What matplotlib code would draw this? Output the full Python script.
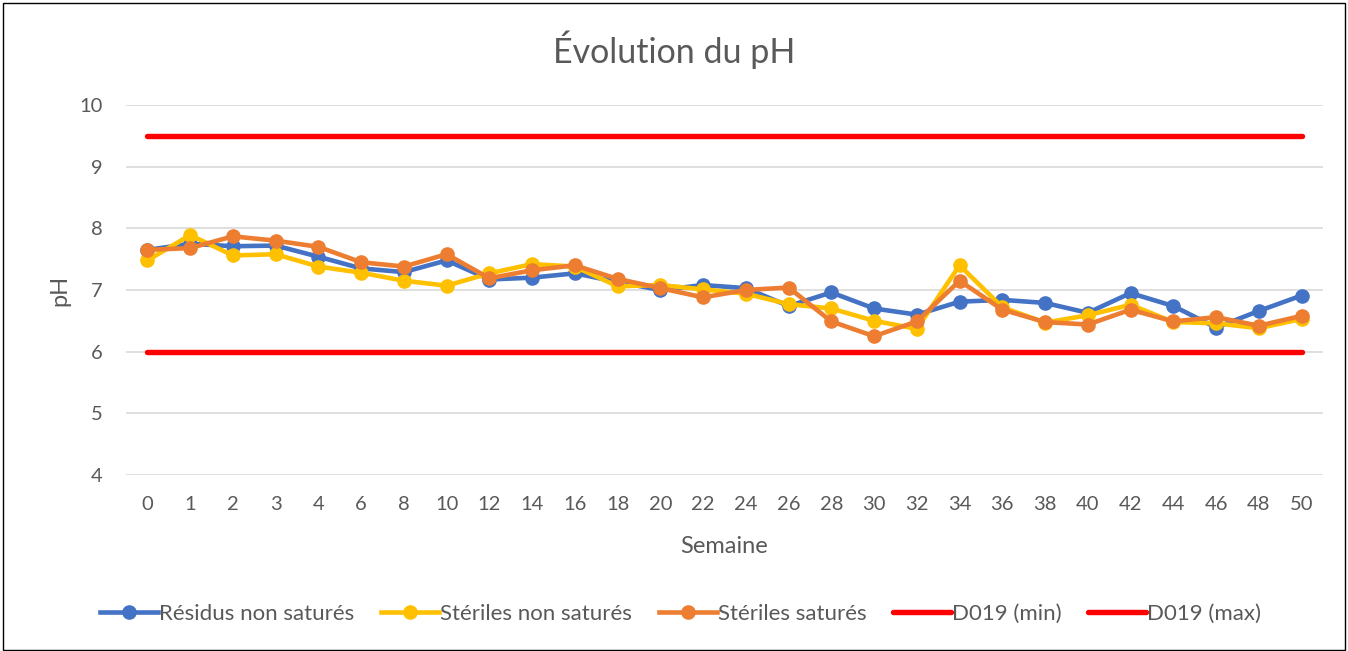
import matplotlib
matplotlib.use("Agg")
import matplotlib.pyplot as plt
from matplotlib.patches import Rectangle

plt.rcParams['font.family'] = ['Lato', 'DejaVu Sans']
plt.rcParams['xtick.major.pad'] = 15
plt.rcParams['ytick.major.pad'] = 17

# semaines (axe catégoriel)
semaines = ["0", "1", "2", "3", "4", "6", "8", "10", "12", "14", "16", "18", "20", "22",
            "24", "26", "28", "30", "32", "34", "36", "38", "40", "42", "44", "46", "48", "50"]

residus_non_satures = [7.65, 7.75, 7.71, 7.72, 7.54, 7.35, 7.29, 7.48, 7.17, 7.20, 7.27, 7.13,
                       7.00, 7.08, 7.03, 6.74, 6.96, 6.70, 6.60, 6.81, 6.84, 6.79, 6.63, 6.95,
                       6.74, 6.39, 6.66, 6.91]
steriles_non_satures = [7.48, 7.89, 7.56, 7.58, 7.38, 7.28, 7.15, 7.07, 7.27, 7.42, 7.38, 7.06,
                        7.08, 7.01, 6.94, 6.77, 6.70, 6.50, 6.37, 7.40, 6.72, 6.47, 6.59, 6.76,
                        6.48, 6.46, 6.38, 6.53]
steriles_satures = [7.65, 7.68, 7.87, 7.80, 7.70, 7.45, 7.38, 7.58, 7.19, 7.32, 7.40, 7.18,
                    7.03, 6.88, 7.00, 7.04, 6.49, 6.25, 6.49, 7.15, 6.68, 6.48, 6.44, 6.68,
                    6.49, 6.56, 6.42, 6.58]
d019_min = 6.0
d019_max = 9.5

fig = plt.figure(figsize=(13.48, 6.51), dpi=100)
ax = fig.add_axes([0.0935, 0.2704, 0.8879, 0.5683])

x = range(len(semaines))
lw = 3.3
ms = 9.5
ax.plot(x, residus_non_satures, color="#4472C4", lw=lw, marker="o", ms=ms, label="Résidus non saturés", zorder=3)
ax.plot(x, steriles_non_satures, color="#FFC000", lw=lw, marker="o", ms=ms, label="Stériles non saturés", zorder=4)
ax.plot(x, steriles_satures, color="#ED7D31", lw=lw, marker="o", ms=ms, label="Stériles saturés", zorder=5)
ax.plot(x, [d019_min] * len(semaines), color="#FF0000", lw=lw + 0.6, solid_capstyle="round", label="D019 (min)", zorder=2)
ax.plot(x, [d019_max] * len(semaines), color="#FF0000", lw=lw + 0.6, solid_capstyle="round", label="D019 (max)", zorder=2)

ax.set_xlim(-0.5, len(semaines) - 0.5)
ax.set_ylim(4, 10)
ax.set_xticks(list(x))
ax.set_xticklabels(semaines)
ax.set_yticks(range(4, 11))
ax.grid(axis="y", color="#D9D9D9", lw=1.2)
ax.set_axisbelow(True)
for s in ax.spines.values():
    s.set_visible(False)
ax.tick_params(length=0, labelsize=14.5, colors="#595959")

ax.set_xlabel("Semaine", fontsize=17, color="#595959", labelpad=17)
ax.set_ylabel("pH", fontsize=17, color="#595959", labelpad=6)
fig.text(0.5, 1 - 50 / 651, "Évolution du pH", ha="center", va="center", fontsize=24.5, color="#595959")

fig.legend(loc="center", bbox_to_anchor=(0.505, 1 - 614 / 651), ncol=5, frameon=False,
           fontsize=16, labelcolor="#595959", handlelength=2.6, handletextpad=0.05,
           columnspacing=1.2)

fig.patches.append(Rectangle((0.002, 0.002), 0.996, 0.994, transform=fig.transFigure,
                             fill=False, edgecolor="black", lw=1.0))

fig.savefig("out.png", dpi=100)
